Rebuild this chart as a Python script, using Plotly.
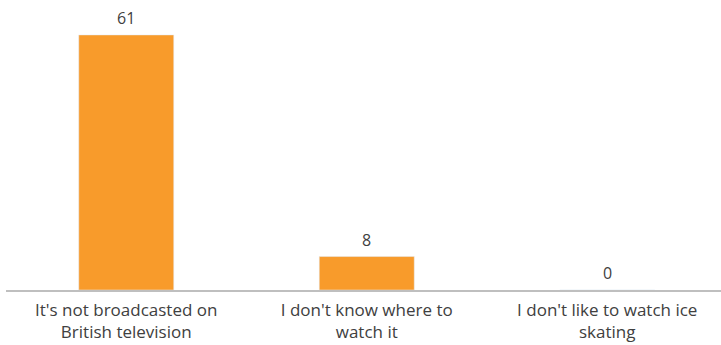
import plotly.graph_objects as go

categories = ["It's not broadcasted on<br>British television",
              "I don't know where to<br>watch it",
              "I don't like to watch ice<br>skating"]
values = [61, 8, 0]

bar_color = "#F89B2B"
font_family = "Open Sans"

fig = go.Figure()
fig.add_trace(go.Bar(x=categories, y=values, marker_color=bar_color,
                     width=0.395, hoverinfo="skip"))

for c, v in zip(categories, values):
    fig.add_annotation(x=c, y=v, text=str(v), showarrow=False,
                       yshift=17, font=dict(family=font_family, size=16, color="#404040"))

fig.update_layout(
    width=721, height=345,
    margin=dict(l=6, r=0, t=9, b=55),
    paper_bgcolor="white", plot_bgcolor="white",
    showlegend=False,
    xaxis=dict(range=[-0.5, 2.473], showline=True, linecolor="#BFBFBF", linewidth=1.5,
               ticks="outside", ticklen=4, tickcolor="rgba(0,0,0,0)", automargin=False,
               tickfont=dict(family=font_family, size=17, color="#404040"),
               showgrid=False, fixedrange=True),
    yaxis=dict(range=[0, 67.2], visible=False, showgrid=False, fixedrange=True),
)

fig.write_html("out.html", config={"displayModeBar": False},
               post_script="document.body.style.margin='0';document.body.style.overflow='hidden';")
